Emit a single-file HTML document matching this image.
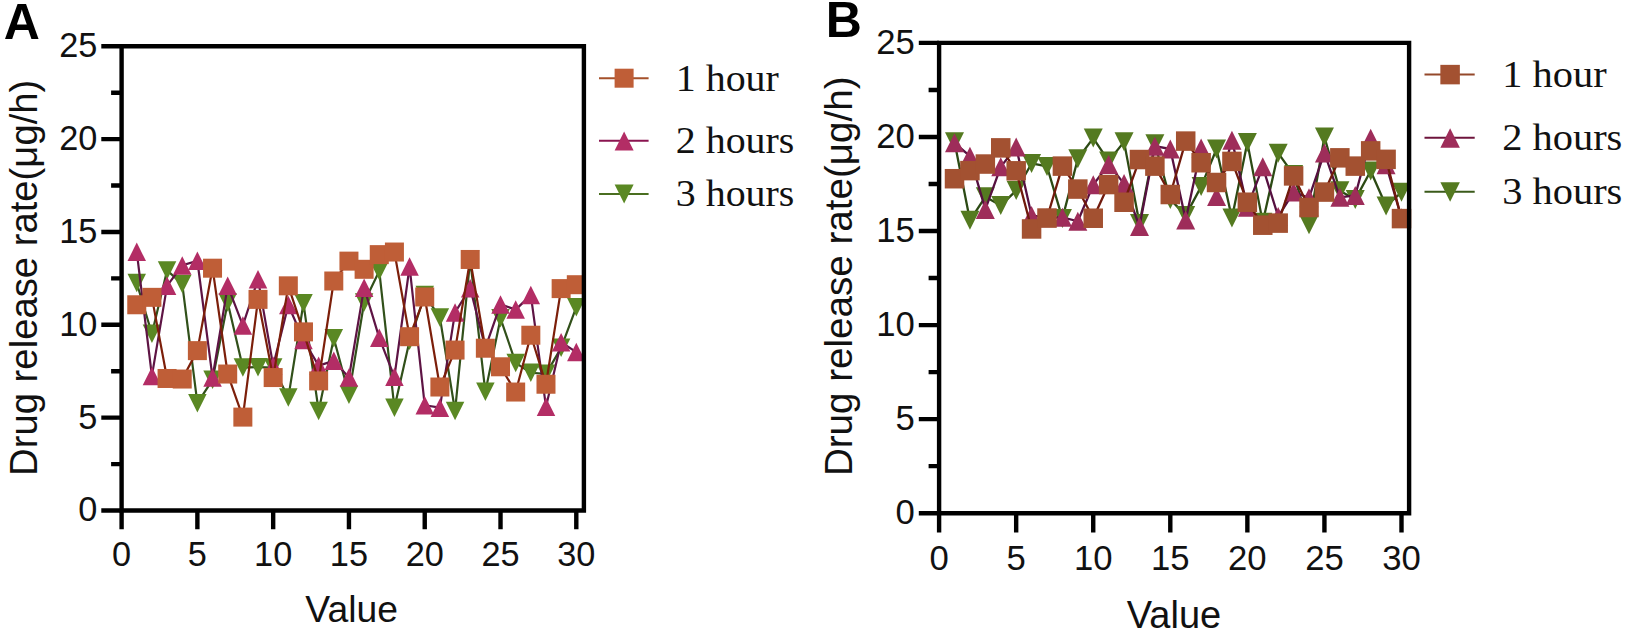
<!DOCTYPE html>
<html lang="en">
<head>
<meta charset="utf-8">
<title>Drug release rate</title>
<style>
html,body{margin:0;padding:0;background:#fff;}
body{width:1625px;height:632px;overflow:hidden;}
svg{display:block;}
text{fill:#111;}
.tk{font-family:"Liberation Sans",Arial,sans-serif;}
.ax{font-family:"Liberation Sans",Arial,sans-serif;}
.pl{font-family:"Liberation Sans",Arial,sans-serif;font-size:50px;font-weight:bold;fill:#000;}
.lg{font-family:"Liberation Serif","Times New Roman",serif;}
</style>
</head>
<body>
<svg width="1625" height="632" viewBox="0 0 1625 632">
<rect width="1625" height="632" fill="#fff"/>
<g id="chartA">
<polyline fill="none" stroke="#31501a" stroke-width="2.2" stroke-linejoin="round" points="136.76,283.04 151.91,333.73 167.07,270.42 182.23,283.97 197.38,403.18 212.54,379.78 227.7,302.54 242.85,367.53 258.01,367.16 273.17,367.53 288.32,397.61 303.48,303.28 318.64,410.98 333.79,338.19 348.95,394.64 364.11,302.54 379.26,270.97 394.42,407.82 409.58,340.79 424.73,295.11 439.89,317.39 455.05,410.98 470.2,259.83 485.36,391.85 500.52,318.32 515.67,362.88 530.83,372.73 545.99,373.84 561.14,347.84 576.3,307.18"/>
<g fill="#5a8823"><path d="M127.51 273.79L146.01 273.79L136.76 292.29Z"/><path d="M142.66 324.48L161.16 324.48L151.91 342.98Z"/><path d="M157.82 261.17L176.32 261.17L167.07 279.67Z"/><path d="M172.98 274.72L191.48 274.72L182.23 293.22Z"/><path d="M188.13 393.93L206.63 393.93L197.38 412.43Z"/><path d="M203.29 370.53L221.79 370.53L212.54 389.03Z"/><path d="M218.45 293.29L236.95 293.29L227.7 311.79Z"/><path d="M233.6 358.28L252.1 358.28L242.85 376.78Z"/><path d="M248.76 357.91L267.26 357.91L258.01 376.41Z"/><path d="M263.92 358.28L282.42 358.28L273.17 376.78Z"/><path d="M279.07 388.36L297.57 388.36L288.32 406.86Z"/><path d="M294.23 294.03L312.73 294.03L303.48 312.53Z"/><path d="M309.39 401.73L327.89 401.73L318.64 420.23Z"/><path d="M324.54 328.94L343.04 328.94L333.79 347.44Z"/><path d="M339.7 385.39L358.2 385.39L348.95 403.89Z"/><path d="M354.86 293.29L373.36 293.29L364.11 311.79Z"/><path d="M370.01 261.72L388.51 261.72L379.26 280.22Z"/><path d="M385.17 398.57L403.67 398.57L394.42 417.07Z"/><path d="M400.33 331.54L418.83 331.54L409.58 350.04Z"/><path d="M415.48 285.86L433.98 285.86L424.73 304.36Z"/><path d="M430.64 308.14L449.14 308.14L439.89 326.64Z"/><path d="M445.8 401.73L464.3 401.73L455.05 420.23Z"/><path d="M460.95 250.58L479.45 250.58L470.2 269.08Z"/><path d="M476.11 382.6L494.61 382.6L485.36 401.1Z"/><path d="M491.27 309.07L509.77 309.07L500.52 327.57Z"/><path d="M506.42 353.63L524.92 353.63L515.67 372.13Z"/><path d="M521.58 363.48L540.08 363.48L530.83 381.98Z"/><path d="M536.74 364.59L555.24 364.59L545.99 383.09Z"/><path d="M551.89 338.59L570.39 338.59L561.14 357.09Z"/><path d="M567.05 297.93L585.55 297.93L576.3 316.43Z"/></g>
<polyline fill="none" stroke="#5e1444" stroke-width="2.2" stroke-linejoin="round" points="136.76,251.85 151.91,375.88 167.07,285.83 182.23,265.4 197.38,260.76 212.54,377.55 227.7,285.83 242.85,325.38 258.01,279.14 273.17,365.67 288.32,304.95 303.48,340.05 318.64,365.67 333.79,360.84 348.95,377.55 364.11,287.68 379.26,337.82 394.42,376.81 409.58,266.52 424.73,405.22 439.89,407.63 455.05,312.38 470.2,288.24 485.36,347.84 500.52,304.4 515.67,309.59 530.83,295.11 545.99,406.7 561.14,342.27 576.3,352.11"/>
<g fill="#b32d65"><path d="M136.76 242.6L146.01 261.1L127.51 261.1Z"/><path d="M151.91 366.63L161.16 385.13L142.66 385.13Z"/><path d="M167.07 276.58L176.32 295.08L157.82 295.08Z"/><path d="M182.23 256.15L191.48 274.65L172.98 274.65Z"/><path d="M197.38 251.51L206.63 270.01L188.13 270.01Z"/><path d="M212.54 368.3L221.79 386.8L203.29 386.8Z"/><path d="M227.7 276.58L236.95 295.08L218.45 295.08Z"/><path d="M242.85 316.13L252.1 334.63L233.6 334.63Z"/><path d="M258.01 269.89L267.26 288.39L248.76 288.39Z"/><path d="M273.17 356.42L282.42 374.92L263.92 374.92Z"/><path d="M288.32 295.7L297.57 314.2L279.07 314.2Z"/><path d="M303.48 330.8L312.73 349.3L294.23 349.3Z"/><path d="M318.64 356.42L327.89 374.92L309.39 374.92Z"/><path d="M333.79 351.59L343.04 370.09L324.54 370.09Z"/><path d="M348.95 368.3L358.2 386.8L339.7 386.8Z"/><path d="M364.11 278.43L373.36 296.93L354.86 296.93Z"/><path d="M379.26 328.57L388.51 347.07L370.01 347.07Z"/><path d="M394.42 367.56L403.67 386.06L385.17 386.06Z"/><path d="M409.58 257.27L418.83 275.77L400.33 275.77Z"/><path d="M424.73 395.97L433.98 414.47L415.48 414.47Z"/><path d="M439.89 398.38L449.14 416.88L430.64 416.88Z"/><path d="M455.05 303.13L464.3 321.63L445.8 321.63Z"/><path d="M470.2 278.99L479.45 297.49L460.95 297.49Z"/><path d="M485.36 338.59L494.61 357.09L476.11 357.09Z"/><path d="M500.52 295.15L509.77 313.65L491.27 313.65Z"/><path d="M515.67 300.34L524.92 318.84L506.42 318.84Z"/><path d="M530.83 285.86L540.08 304.36L521.58 304.36Z"/><path d="M545.99 397.45L555.24 415.95L536.74 415.95Z"/><path d="M561.14 333.02L570.39 351.52L551.89 351.52Z"/><path d="M576.3 342.86L585.55 361.36L567.05 361.36Z"/></g>
<polyline fill="none" stroke="#7c1f0a" stroke-width="2.2" stroke-linejoin="round" points="136.76,304.77 151.91,297.34 167.07,378.48 182.23,379.04 197.38,350.63 212.54,268.19 227.7,374.03 242.85,417.1 258.01,299.38 273.17,377.55 288.32,285.83 303.48,331.88 318.64,380.9 333.79,281 348.95,261.13 364.11,269.3 379.26,254.63 394.42,252.03 409.58,336.7 424.73,296.97 439.89,387.02 455.05,350.07 470.2,259.46 485.36,348.22 500.52,366.78 515.67,392.04 530.83,335.22 545.99,384.24 561.14,288.61 576.3,284.71"/>
<g fill="#bf5e37"><rect x="127.26" y="295.27" width="19" height="19"/><rect x="142.41" y="287.84" width="19" height="19"/><rect x="157.57" y="368.98" width="19" height="19"/><rect x="172.73" y="369.54" width="19" height="19"/><rect x="187.88" y="341.13" width="19" height="19"/><rect x="203.04" y="258.69" width="19" height="19"/><rect x="218.2" y="364.53" width="19" height="19"/><rect x="233.35" y="407.6" width="19" height="19"/><rect x="248.51" y="289.88" width="19" height="19"/><rect x="263.67" y="368.05" width="19" height="19"/><rect x="278.82" y="276.33" width="19" height="19"/><rect x="293.98" y="322.38" width="19" height="19"/><rect x="309.14" y="371.4" width="19" height="19"/><rect x="324.29" y="271.5" width="19" height="19"/><rect x="339.45" y="251.63" width="19" height="19"/><rect x="354.61" y="259.8" width="19" height="19"/><rect x="369.76" y="245.13" width="19" height="19"/><rect x="384.92" y="242.53" width="19" height="19"/><rect x="400.08" y="327.2" width="19" height="19"/><rect x="415.23" y="287.47" width="19" height="19"/><rect x="430.39" y="377.52" width="19" height="19"/><rect x="445.55" y="340.57" width="19" height="19"/><rect x="460.7" y="249.96" width="19" height="19"/><rect x="475.86" y="338.72" width="19" height="19"/><rect x="491.02" y="357.28" width="19" height="19"/><rect x="506.17" y="382.54" width="19" height="19"/><rect x="521.33" y="325.72" width="19" height="19"/><rect x="536.49" y="374.74" width="19" height="19"/><rect x="551.64" y="279.11" width="19" height="19"/><rect x="566.8" y="275.21" width="19" height="19"/></g>
<g stroke="#000" stroke-width="4.4" fill="none" stroke-linecap="butt">
<path d="M121.6 46.3H583.9V510.5H121.6Z"/>
<path d="M101.3 510.5H121.6M101.3 417.66H121.6M101.3 324.82H121.6M101.3 231.98H121.6M101.3 139.14H121.6M101.3 46.3H121.6M111.1 464.08H121.6M111.1 371.24H121.6M111.1 278.4H121.6M111.1 185.56H121.6M111.1 92.72H121.6M121.6 510.5V529.3M197.38 510.5V529.3M273.17 510.5V529.3M348.95 510.5V529.3M424.73 510.5V529.3M500.52 510.5V529.3M576.3 510.5V529.3"/>
</g>
<g class="tk" text-anchor="end" font-size="34.3">
<text x="97.4" y="521.4">0</text>
<text x="97.4" y="428.56">5</text>
<text x="97.4" y="335.72">10</text>
<text x="97.4" y="242.88">15</text>
<text x="97.4" y="150.04">20</text>
<text x="97.4" y="57.2">25</text>
</g>
<g class="tk" text-anchor="middle" font-size="34.3">
<text x="121.6" y="565.8">0</text>
<text x="197.38" y="565.8">5</text>
<text x="273.17" y="565.8">10</text>
<text x="348.95" y="565.8">15</text>
<text x="424.73" y="565.8">20</text>
<text x="500.52" y="565.8">25</text>
<text x="576.3" y="565.8">30</text>
</g>
<text class="ax" font-size="37.3" text-anchor="middle" x="351.65" y="622.2">Value</text>
<text class="ax" font-size="38.25" text-anchor="middle" transform="translate(36.6 277.8) rotate(-90)">Drug release rate(μg/h)</text>
<text class="pl" x="3.8" y="38.7">A</text>
<path d="M599 78.2H648.6" stroke="#a5502a" stroke-width="2" fill="none"/>
<rect x="614.6" y="68.7" width="19" height="19" fill="#bf5e37"/>
<text class="lg" font-size="38" transform="translate(675.8 90.6) scale(1.05 1)">1 hour</text>
<path d="M599 140.7H648.6" stroke="#8a1450" stroke-width="2" fill="none"/>
<path d="M624.1 131.4L633.6 150.4L614.6 150.4Z" fill="#b32d65"/>
<text class="lg" font-size="38" transform="translate(675.8 153.2) scale(1.05 1)">2 hours</text>
<path d="M599 193.9H648.6" stroke="#4a6e20" stroke-width="2" fill="none"/>
<path d="M614.6 184.5L633.6 184.5L624.1 203.5Z" fill="#5a8823"/>
<text class="lg" font-size="38" transform="translate(675.8 206.4) scale(1.05 1)">3 hours</text>
</g>
<g id="chartB">
<polyline fill="none" stroke="#2c4a14" stroke-width="2.3" stroke-linejoin="round" points="954.51,141.66 969.93,220.3 985.34,196.78 1000.75,205.44 1016.17,190.57 1031.58,163.48 1046.99,166.49 1062.41,218.42 1077.82,158.78 1093.23,138.09 1108.65,161.04 1124.06,141.85 1139.47,223.5 1154.89,143.73 1170.3,199.42 1185.71,215.41 1201.13,186.62 1216.54,149 1231.95,218.04 1247.37,142.6 1262.78,222.37 1278.19,153.14 1293.61,174.58 1309.02,224.81 1324.43,136.96 1339.85,190.76 1355.26,199.42 1370.67,171.01 1386.09,206 1401.5,192.27"/>
<g fill="#547a20"><path d="M945.01 132.16L964.01 132.16L954.51 151.16Z"/><path d="M960.43 210.8L979.43 210.8L969.93 229.8Z"/><path d="M975.84 187.28L994.84 187.28L985.34 206.28Z"/><path d="M991.25 195.94L1010.25 195.94L1000.75 214.94Z"/><path d="M1006.67 181.07L1025.67 181.07L1016.17 200.07Z"/><path d="M1022.08 153.98L1041.08 153.98L1031.58 172.98Z"/><path d="M1037.49 156.99L1056.49 156.99L1046.99 175.99Z"/><path d="M1052.91 208.92L1071.91 208.92L1062.41 227.92Z"/><path d="M1068.32 149.28L1087.32 149.28L1077.82 168.28Z"/><path d="M1083.73 128.59L1102.73 128.59L1093.23 147.59Z"/><path d="M1099.15 151.54L1118.15 151.54L1108.65 170.54Z"/><path d="M1114.56 132.35L1133.56 132.35L1124.06 151.35Z"/><path d="M1129.97 214L1148.97 214L1139.47 233Z"/><path d="M1145.39 134.23L1164.39 134.23L1154.89 153.23Z"/><path d="M1160.8 189.92L1179.8 189.92L1170.3 208.92Z"/><path d="M1176.21 205.91L1195.21 205.91L1185.71 224.91Z"/><path d="M1191.63 177.12L1210.63 177.12L1201.13 196.12Z"/><path d="M1207.04 139.5L1226.04 139.5L1216.54 158.5Z"/><path d="M1222.45 208.54L1241.45 208.54L1231.95 227.54Z"/><path d="M1237.87 133.1L1256.87 133.1L1247.37 152.1Z"/><path d="M1253.28 212.87L1272.28 212.87L1262.78 231.87Z"/><path d="M1268.69 143.64L1287.69 143.64L1278.19 162.64Z"/><path d="M1284.11 165.08L1303.11 165.08L1293.61 184.08Z"/><path d="M1299.52 215.31L1318.52 215.31L1309.02 234.31Z"/><path d="M1314.93 127.46L1333.93 127.46L1324.43 146.46Z"/><path d="M1330.35 181.26L1349.35 181.26L1339.85 200.26Z"/><path d="M1345.76 189.92L1364.76 189.92L1355.26 208.92Z"/><path d="M1361.17 161.51L1380.17 161.51L1370.67 180.51Z"/><path d="M1376.59 196.5L1395.59 196.5L1386.09 215.5Z"/><path d="M1392 182.77L1411 182.77L1401.5 201.77Z"/></g>
<polyline fill="none" stroke="#561040" stroke-width="2.3" stroke-linejoin="round" points="954.51,142.79 969.93,156.15 985.34,209.39 1000.75,166.87 1016.17,146.93 1031.58,215.41 1046.99,217.85 1062.41,217.29 1077.82,221.24 1093.23,184.74 1108.65,164.43 1124.06,183.61 1139.47,226.51 1154.89,146.18 1170.3,149 1185.71,219.92 1201.13,148.06 1216.54,196.59 1231.95,140.16 1247.37,207.13 1262.78,166.87 1278.19,216.53 1293.61,192.08 1309.02,197.72 1324.43,152.95 1339.85,197.35 1355.26,195.47 1370.67,138.28 1386.09,164.8 1401.5,217.85"/>
<g fill="#9e2d5a"><path d="M954.51 133.29L964.01 152.29L945.01 152.29Z"/><path d="M969.93 146.65L979.43 165.65L960.43 165.65Z"/><path d="M985.34 199.89L994.84 218.89L975.84 218.89Z"/><path d="M1000.75 157.37L1010.25 176.37L991.25 176.37Z"/><path d="M1016.17 137.43L1025.67 156.43L1006.67 156.43Z"/><path d="M1031.58 205.91L1041.08 224.91L1022.08 224.91Z"/><path d="M1046.99 208.35L1056.49 227.35L1037.49 227.35Z"/><path d="M1062.41 207.79L1071.91 226.79L1052.91 226.79Z"/><path d="M1077.82 211.74L1087.32 230.74L1068.32 230.74Z"/><path d="M1093.23 175.24L1102.73 194.24L1083.73 194.24Z"/><path d="M1108.65 154.93L1118.15 173.93L1099.15 173.93Z"/><path d="M1124.06 174.11L1133.56 193.11L1114.56 193.11Z"/><path d="M1139.47 217.01L1148.97 236.01L1129.97 236.01Z"/><path d="M1154.89 136.68L1164.39 155.68L1145.39 155.68Z"/><path d="M1170.3 139.5L1179.8 158.5L1160.8 158.5Z"/><path d="M1185.71 210.42L1195.21 229.42L1176.21 229.42Z"/><path d="M1201.13 138.56L1210.63 157.56L1191.63 157.56Z"/><path d="M1216.54 187.09L1226.04 206.09L1207.04 206.09Z"/><path d="M1231.95 130.66L1241.45 149.66L1222.45 149.66Z"/><path d="M1247.37 197.63L1256.87 216.63L1237.87 216.63Z"/><path d="M1262.78 157.37L1272.28 176.37L1253.28 176.37Z"/><path d="M1278.19 207.03L1287.69 226.03L1268.69 226.03Z"/><path d="M1293.61 182.58L1303.11 201.58L1284.11 201.58Z"/><path d="M1309.02 188.22L1318.52 207.22L1299.52 207.22Z"/><path d="M1324.43 143.45L1333.93 162.45L1314.93 162.45Z"/><path d="M1339.85 187.85L1349.35 206.85L1330.35 206.85Z"/><path d="M1355.26 185.97L1364.76 204.97L1345.76 204.97Z"/><path d="M1370.67 128.78L1380.17 147.78L1361.17 147.78Z"/><path d="M1386.09 155.3L1395.59 174.3L1376.59 174.3Z"/><path d="M1401.5 208.35L1411 227.35L1392 227.35Z"/></g>
<polyline fill="none" stroke="#701a0c" stroke-width="2.3" stroke-linejoin="round" points="954.51,178.72 969.93,170.63 985.34,164.05 1000.75,147.87 1016.17,170.82 1031.58,228.95 1046.99,218.04 1062.41,166.12 1077.82,189.07 1093.23,218.23 1108.65,184.55 1124.06,202.24 1139.47,159.53 1154.89,166.12 1170.3,194.52 1185.71,141.1 1201.13,162.73 1216.54,182.49 1231.95,161.42 1247.37,202.24 1262.78,225.19 1278.19,223.12 1293.61,175.9 1309.02,207.51 1324.43,192.08 1339.85,157.84 1355.26,166.12 1370.67,150.88 1386.09,159.35 1401.5,218.6"/>
<g fill="#a35131"><rect x="944.76" y="168.97" width="19.5" height="19.5"/><rect x="960.18" y="160.88" width="19.5" height="19.5"/><rect x="975.59" y="154.3" width="19.5" height="19.5"/><rect x="991" y="138.12" width="19.5" height="19.5"/><rect x="1006.42" y="161.07" width="19.5" height="19.5"/><rect x="1021.83" y="219.2" width="19.5" height="19.5"/><rect x="1037.24" y="208.29" width="19.5" height="19.5"/><rect x="1052.66" y="156.37" width="19.5" height="19.5"/><rect x="1068.07" y="179.32" width="19.5" height="19.5"/><rect x="1083.48" y="208.48" width="19.5" height="19.5"/><rect x="1098.9" y="174.8" width="19.5" height="19.5"/><rect x="1114.31" y="192.49" width="19.5" height="19.5"/><rect x="1129.72" y="149.78" width="19.5" height="19.5"/><rect x="1145.14" y="156.37" width="19.5" height="19.5"/><rect x="1160.55" y="184.77" width="19.5" height="19.5"/><rect x="1175.96" y="131.35" width="19.5" height="19.5"/><rect x="1191.38" y="152.98" width="19.5" height="19.5"/><rect x="1206.79" y="172.74" width="19.5" height="19.5"/><rect x="1222.2" y="151.67" width="19.5" height="19.5"/><rect x="1237.62" y="192.49" width="19.5" height="19.5"/><rect x="1253.03" y="215.44" width="19.5" height="19.5"/><rect x="1268.44" y="213.37" width="19.5" height="19.5"/><rect x="1283.86" y="166.15" width="19.5" height="19.5"/><rect x="1299.27" y="197.76" width="19.5" height="19.5"/><rect x="1314.68" y="182.33" width="19.5" height="19.5"/><rect x="1330.1" y="148.09" width="19.5" height="19.5"/><rect x="1345.51" y="156.37" width="19.5" height="19.5"/><rect x="1360.92" y="141.13" width="19.5" height="19.5"/><rect x="1376.34" y="149.6" width="19.5" height="19.5"/><rect x="1391.75" y="208.85" width="19.5" height="19.5"/></g>
<g stroke="#000" stroke-width="4.4" fill="none" stroke-linecap="butt">
<path d="M939.1 42.9H1409.1V513.2H939.1Z"/>
<path d="M918.8 513.2H939.1M918.8 419.14H939.1M918.8 325.08H939.1M918.8 231.02H939.1M918.8 136.96H939.1M918.8 42.9H939.1M928.6 466.17H939.1M928.6 372.11H939.1M928.6 278.05H939.1M928.6 183.99H939.1M928.6 89.93H939.1M939.1 513.2V532.6M1016.17 513.2V532.6M1093.23 513.2V532.6M1170.3 513.2V532.6M1247.37 513.2V532.6M1324.43 513.2V532.6M1401.5 513.2V532.6"/>
</g>
<g class="tk" text-anchor="end" font-size="34.7">
<text x="914.9" y="524.2">0</text>
<text x="914.9" y="430.14">5</text>
<text x="914.9" y="336.08">10</text>
<text x="914.9" y="242.02">15</text>
<text x="914.9" y="147.96">20</text>
<text x="914.9" y="53.9">25</text>
</g>
<g class="tk" text-anchor="middle" font-size="34.7">
<text x="939.1" y="570.2">0</text>
<text x="1016.17" y="570.2">5</text>
<text x="1093.23" y="570.2">10</text>
<text x="1170.3" y="570.2">15</text>
<text x="1247.37" y="570.2">20</text>
<text x="1324.43" y="570.2">25</text>
<text x="1401.5" y="570.2">30</text>
</g>
<text class="ax" font-size="38" text-anchor="middle" x="1174" y="627.5">Value</text>
<text class="ax" font-size="38.6" text-anchor="middle" transform="translate(852 276.3) rotate(-90)">Drug release rate(μg/h)</text>
<text class="pl" x="825.8" y="37.2">B</text>
<path d="M1424.5 74.6H1474.7" stroke="#94482a" stroke-width="2" fill="none"/>
<rect x="1440.35" y="64.85" width="19.5" height="19.5" fill="#a35131"/>
<text class="lg" font-size="38.5" transform="translate(1502.2 87.3) scale(1.05 1)">1 hour</text>
<path d="M1424.5 137.7H1474.7" stroke="#6e143c" stroke-width="2" fill="none"/>
<path d="M1450.1 128.15L1459.85 147.65L1440.35 147.65Z" fill="#9e2d5a"/>
<text class="lg" font-size="38.5" transform="translate(1502.2 150.3) scale(1.05 1)">2 hours</text>
<path d="M1424.5 191.8H1474.7" stroke="#3a5a1a" stroke-width="2" fill="none"/>
<path d="M1440.35 182.15L1459.85 182.15L1450.1 201.65Z" fill="#547a20"/>
<text class="lg" font-size="38.5" transform="translate(1502.2 204.4) scale(1.05 1)">3 hours</text>
</g>
</svg>
</body>
</html>
